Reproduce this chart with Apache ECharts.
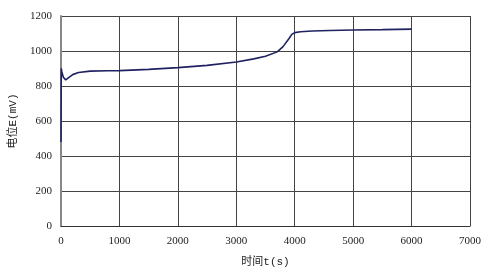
<!DOCTYPE html>
<html><head><meta charset="utf-8">
<script src="https://cdn.jsdelivr.net/npm/echarts@6/dist/echarts.min.js"></script>
<style>html,body{margin:0;padding:0;background:#fff}#c{width:492px;height:275px}</style>
</head><body><div id="c"></div>
<script>
var times = [0, 5, 15, 40, 80, 120, 200, 300, 500, 800, 1000, 1500, 2000, 2500, 3000, 3300, 3500, 3700, 3800, 3900, 3950, 4000, 4100, 4300, 4600, 5000, 5500, 6000];
var potentials = [480, 900, 880, 850, 835, 845, 865, 877, 885, 887, 888, 895, 905, 918, 937, 955, 970, 995, 1025, 1070, 1095, 1105, 1110, 1114, 1117, 1120, 1122, 1125];
var xName = '时间t(s)';
var yName = '电位E(mV)';
var data = times.map(function(t, i){ return [t, potentials[i]]; });
var chart = echarts.init(document.getElementById('c'));
var font = '"Liberation Serif","Noto Sans CJK SC",serif';
var nameFont = '"Liberation Mono","Noto Sans CJK SC",monospace';
function plain(v){ return String(v); }
chart.setOption({
  animation: false,
  grid: {left: 61, right: 22, top: 16, bottom: 49},
  xAxis: {
    type: 'value', min: 0, max: 7000, interval: 1000,
    name: xName, nameLocation: 'middle', nameGap: 31,
    nameTextStyle: {color: '#222', fontSize: 11, fontFamily: nameFont},
    axisLine: {show: true, lineStyle: {color: '#333', width: 1}},
    axisTick: {show: false},
    axisLabel: {color: '#222', fontSize: 11, fontFamily: font, margin: 10, formatter: plain},
    splitLine: {show: true, lineStyle: {color: '#444', width: 1}}
  },
  yAxis: {
    type: 'value', min: 0, max: 1200, interval: 200,
    name: yName, nameLocation: 'middle', nameGap: 42, nameRotate: 90,
    nameTextStyle: {color: '#222', fontSize: 11, fontFamily: nameFont},
    axisLine: {show: true, lineStyle: {color: '#888', width: 2}},
    axisTick: {show: false},
    axisLabel: {color: '#222', fontSize: 11, fontFamily: font, margin: 9, formatter: plain},
    splitLine: {show: true, lineStyle: {color: '#444', width: 1}}
  },
  series: [{
    type: 'line', data: data, showSymbol: false, smooth: false,
    lineStyle: {color: '#1f2260', width: 1.6}
  }]
});
</script></body></html>
